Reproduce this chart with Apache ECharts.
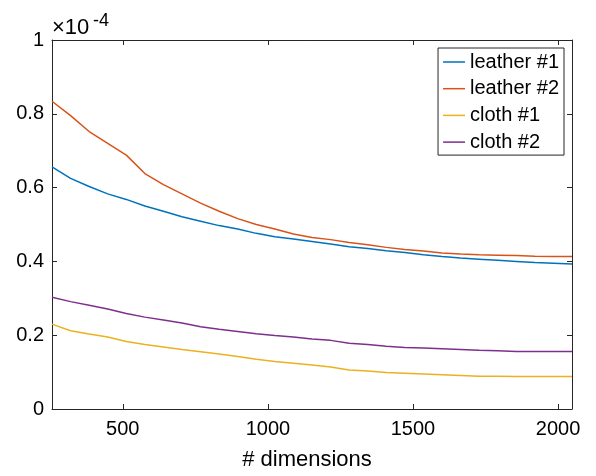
<!DOCTYPE html>
<html>
<head>
<meta charset="utf-8">
<script src="https://cdn.jsdelivr.net/npm/echarts@6/dist/echarts.min.js"></script>
<style>html,body{margin:0;padding:0;background:#fff}#c{width:596px;height:476px}</style>
</head>
<body>
<div id="c"></div>
<script>
// x values: number of dimensions
var dims = [256,320,384,448,512,576,640,704,768,832,896,960,1024,1088,1152,1216,1280,1344,1408,1472,1536,1600,1664,1728,1792,1856,1920,1984,2048];
// y values in units of 1e-4
var leather1 = [0.656,0.625,0.603,0.583,0.568,0.550,0.536,0.521,0.509,0.497,0.488,0.476,0.467,0.461,0.454,0.447,0.440,0.435,0.429,0.424,0.418,0.413,0.409,0.406,0.403,0.400,0.397,0.395,0.393];
var leather2 = [0.834,0.795,0.752,0.720,0.688,0.638,0.608,0.583,0.558,0.536,0.516,0.500,0.488,0.474,0.465,0.459,0.451,0.445,0.438,0.432,0.428,0.423,0.420,0.418,0.417,0.416,0.414,0.413,0.413];
var cloth1 = [0.230,0.212,0.203,0.195,0.183,0.175,0.168,0.161,0.155,0.149,0.142,0.135,0.129,0.124,0.119,0.114,0.106,0.103,0.099,0.097,0.095,0.093,0.091,0.089,0.0885,0.088,0.088,0.088,0.088];
var cloth2 = [0.303,0.291,0.281,0.271,0.259,0.249,0.241,0.233,0.223,0.216,0.210,0.204,0.199,0.195,0.190,0.186,0.178,0.175,0.170,0.167,0.165,0.163,0.161,0.159,0.158,0.156,0.156,0.156,0.156];
var seriesNames = ['leather #1','leather #2','cloth #1','cloth #2'];
var xTicks = [500,1000,1500,2000];
var yTicks = [0,0.2,0.4,0.6,0.8,1];

function pairs(ys){ return dims.map(function(d,i){ return [d, ys[i]]; }); }
var colors = ['#0072BD','#D95319','#EDB120','#7E2F8E'];
var allData = [leather1, leather2, cloth1, cloth2];
var font = 'Liberation Sans, Arial, Helvetica, sans-serif';
var axisColor = '#262626';

var chart = echarts.init(document.getElementById('c'), null, {renderer:'canvas'});
function xAxisDef(pos, showLabel){
  return {
    type:'value', min:256, max:2048, position:pos,
    splitLine:{show:false},
    axisLine:{show:true, onZero:false, lineStyle:{color:axisColor, width:1}},
    axisTick:{show:true, inside:true, length:5, lineStyle:{color:axisColor}, customValues: xTicks},
    axisLabel:{show:showLabel, customValues: xTicks, color:'#000', fontSize:20, fontFamily:font, margin:10,
      formatter:function(v){ return String(v); }}
  };
}
function yAxisDef(pos, showLabel){
  return {
    type:'value', min:0, max:1, position:pos,
    splitLine:{show:false},
    axisLine:{show:true, onZero:false, lineStyle:{color:axisColor, width:1}},
    axisTick:{show:true, inside:true, length:5, lineStyle:{color:axisColor}, customValues: yTicks},
    axisLabel:{show:showLabel, customValues: yTicks, color:'#000', fontSize:20, fontFamily:font, margin:8,
      formatter:function(v){ return (v===0||v===1)? String(v) : v.toFixed(1); }}
  };
}
var xb = xAxisDef('bottom', true);
xb.name = '# dimensions'; xb.nameLocation = 'middle'; xb.nameGap = 40;
xb.nameTextStyle = {color:'#000', fontSize:22, fontFamily:font, padding:[0,10,0,0]};
var option = {
  animation:false,
  backgroundColor:'#fff',
  grid:{left:52, right:24, top:40, bottom:64, containLabel:false},
  xAxis:[xb, xAxisDef('top', false)],
  yAxis:[yAxisDef('left', true), yAxisDef('right', false)],
  legend:{
    orient:'vertical', right:32, top:48,
    data:seriesNames,
    icon:'rect', itemWidth:22, itemHeight:1.5, itemGap:6.7,
    borderColor:axisColor, borderWidth:1, borderRadius:0,
    padding:[4,5,3,5], backgroundColor:'#fff',
    textStyle:{color:'#000', fontSize:20, fontFamily:font, lineHeight:20}
  },
  graphic:[
    {type:'text', x:52, y:28, style:{text:'×10', fill:'#000', fontSize:22, fontFamily:font, verticalAlign:'middle', align:'left'}},
    {type:'text', x:93, y:21, style:{text:'-4', fill:'#000', fontSize:18, fontFamily:font, verticalAlign:'middle', align:'left'}}
  ],
  series: allData.map(function(d,i){
    return {
      name:seriesNames[i], type:'line', data:pairs(d),
      showSymbol:false, symbol:'none',
      lineStyle:{color:colors[i], width:1.5},
      itemStyle:{color:colors[i]},
      xAxisIndex:0, yAxisIndex:0
    };
  })
};
chart.setOption(option);
</script>
</body>
</html>
